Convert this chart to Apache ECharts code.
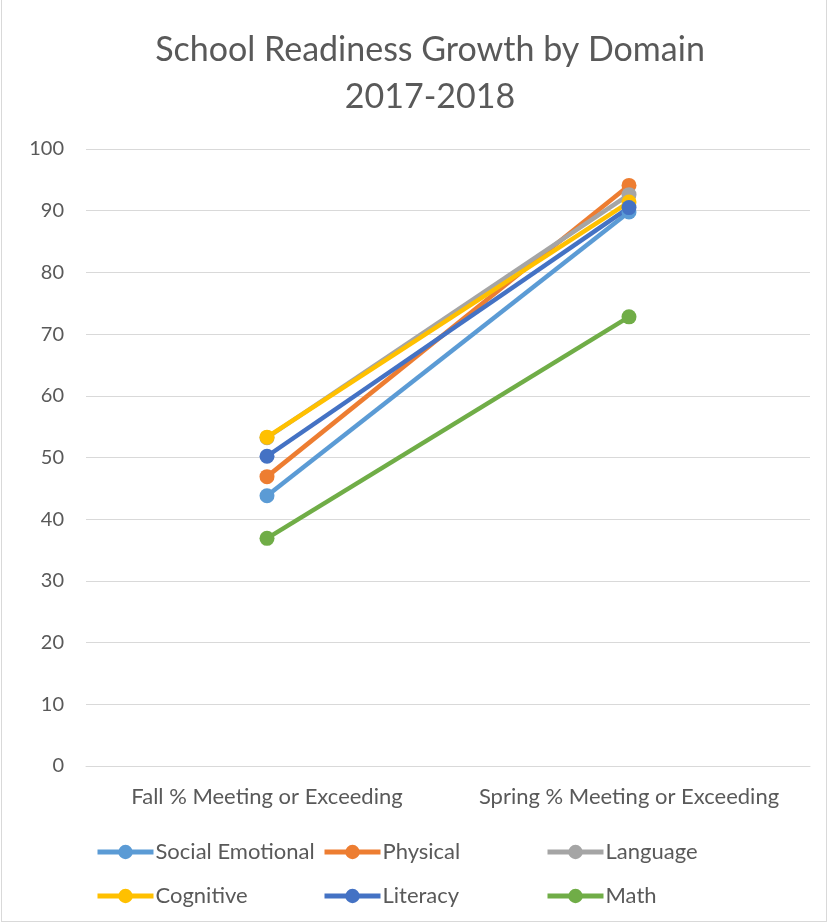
<!DOCTYPE html>
<html><head><meta charset="utf-8">
<script src="https://cdn.jsdelivr.net/npm/echarts@6/dist/echarts.min.js"></script>
<style>
html,body{margin:0;padding:0;background:#fff;}
#frame{position:absolute;left:1px;top:0;width:826px;height:922px;border:1px solid #D9D9D9;border-top:none;box-sizing:border-box;}
#c{position:absolute;left:0;top:0;width:829px;height:924px;}
</style></head>
<body><div id="frame"></div><div id="c"></div>
<script>
const categories = ['Fall % Meeting or Exceeding', 'Spring % Meeting or Exceeding'];
const seriesNames = ['Social Emotional', 'Physical', 'Language', 'Cognitive', 'Literacy', 'Math'];
const socialEmotional = [43.8, 89.8];
const physical = [46.9, 94.1];
const language = [53.2, 92.6];
const cognitive = [53.3, 91.4];
const literacy = [50.2, 90.5];
const math = [36.9, 72.8];
const colors = ['#5B9BD5', '#ED7D31', '#A5A5A5', '#FFC000', '#4472C4', '#70AD47'];
const values = [socialEmotional, physical, language, cognitive, literacy, math];

const FONT = 'Lato';
const legendPos = [[90,836],[317,836],[540,836],[90,880],[317,880],[540,880]];

const chart = echarts.init(document.getElementById('c'));
chart.setOption({
  animation: false,
  title: {
    text: 'School Readiness Growth by Domain\n2017-2018',
    left: 425, top: 22, textAlign: 'center',
    textStyle: {fontFamily: FONT, fontSize: 34, fontWeight: 'normal', color: '#595959', lineHeight: 47}
  },
  grid: {left: 86, right: 19, top: 149, bottom: 158},
  legend: seriesNames.map((n, i) => ({
    data: [n], left: legendPos[i][0], top: legendPos[i][1],
    itemWidth: 56, itemHeight: 18, itemGap: 0,
    lineStyle: {width: 5},
    textStyle: {fontFamily: FONT, fontSize: 22, color: '#595959', padding: [0,0,0,-3]}
  })),
  xAxis: {
    type: 'category', data: categories, boundaryGap: true,
    axisLine: {show: true, lineStyle: {color: '#D9D9D9', width: 1}},
    axisTick: {show: false},
    axisLabel: {interval: 0, fontFamily: FONT, fontSize: 22, color: '#595959', margin: 20}
  },
  yAxis: {
    type: 'value', min: 0, max: 100, interval: 10,
    axisLine: {show: false}, axisTick: {show: false},
    splitLine: {lineStyle: {color: '#D9D9D9', width: 1}},
    axisLabel: {fontFamily: FONT, fontSize: 20, color: '#595959', margin: 22}
  },
  series: seriesNames.map((n, i) => ({
    name: n, type: 'line', data: values[i],
    symbol: 'circle', symbolSize: 15,
    lineStyle: {color: colors[i], width: 4.5},
    itemStyle: {color: colors[i]}
  }))
});
</script></body></html>
